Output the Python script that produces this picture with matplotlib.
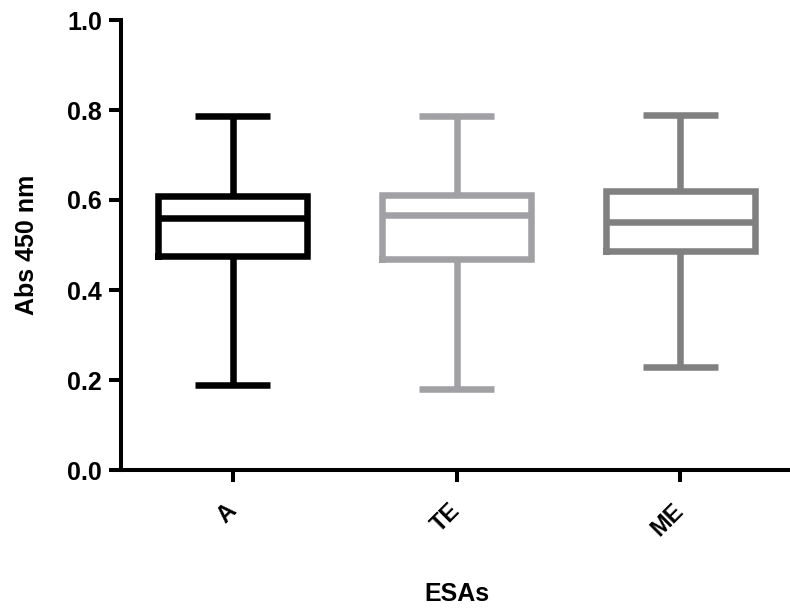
import matplotlib.pyplot as plt
import numpy as np

plt.rcParams['font.family'] = ['Liberation Sans', 'DejaVu Sans']
plt.rcParams['font.weight'] = 'bold'

# valores (Abs 450 nm)
grupos = ['A', 'TE', 'ME']
minimos = [0.19, 0.181, 0.230]
q1 = [0.475, 0.468, 0.487]
medianas = [0.559, 0.566, 0.550]
q3 = [0.610, 0.611, 0.621]
maximos = [0.786, 0.786, 0.790]
cores = ['#000000', '#A1A0A4', '#808080']

fig = plt.figure(figsize=(7.9, 6.08), dpi=100)
ax = fig.add_axes([121/790, 138/608, (792-121)/790, 450/608])

pos = np.arange(len(grupos))
for i in range(len(grupos)):
    st = [{'med': medianas[i], 'q1': q1[i], 'q3': q3[i],
           'whislo': minimos[i], 'whishi': maximos[i], 'fliers': []}]
    c = cores[i]
    lw = 4.7
    ax.bxp(st, positions=[pos[i]], widths=0.665, showfliers=False,
           boxprops=dict(color=c, linewidth=lw, solid_joinstyle='miter'),
           medianprops=dict(color=c, linewidth=lw, solid_capstyle='butt'),
           whiskerprops=dict(color=c, linewidth=lw, solid_capstyle='butt'),
           capprops=dict(color=c, linewidth=lw, solid_capstyle='butt'),
           capwidths=0.335, manage_ticks=False)

ax.set_xlim(-0.5, 2.5)
ax.set_ylim(0, 1.0)
ax.set_yticks(np.arange(0, 1.01, 0.2))
ax.set_yticklabels(['%.1f' % v for v in np.arange(0, 1.01, 0.2)], fontsize=18, fontweight='bold')
ax.set_xticks(pos)
ax.set_xticklabels(grupos, fontsize=17, fontweight='bold', rotation=45,
                   ha='right', va='center', rotation_mode='anchor')

for s in ['top', 'right']:
    ax.spines[s].set_visible(False)
for s in ['left', 'bottom']:
    ax.spines[s].set_linewidth(2.9)
ax.tick_params(axis='both', length=8.6, width=2.9, colors='black')
ax.tick_params(axis='y', pad=5)
ax.tick_params(axis='x', pad=18)

ax.set_ylabel('Abs 450 nm', fontsize=18, fontweight='bold', labelpad=20)
ax.set_xlabel('ESAs', fontsize=18, fontweight='bold', labelpad=30)

fig.savefig('out.png', dpi=100)
